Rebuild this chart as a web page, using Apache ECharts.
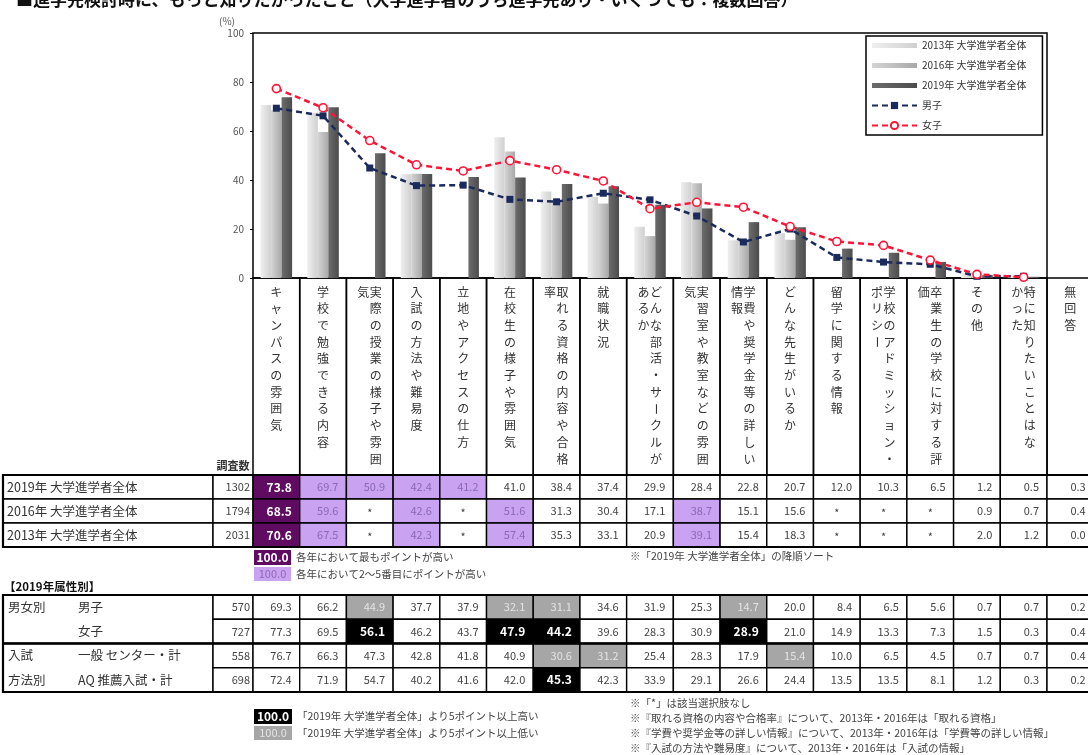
<!DOCTYPE html>
<html>
<head>
<meta charset="utf-8">
<script src="https://cdn.jsdelivr.net/npm/echarts@6/dist/echarts.min.js"></script>
<style>
html,body{margin:0;padding:0;background:#fff;}
#chart{width:1088px;height:755px;}
</style>
</head>
<body>
<div id="chart"></div>
<script>
// ---- data ----
const categories = ['キャンパスの雰囲気','学校で勉強できる内容','実際の授業の様子や雰囲気','入試の方法や難易度','立地やアクセスの仕方','在校生の様子や雰囲気','取れる資格の内容や合格率','就職状況','どんな部活・サークルがあるか','実習室や教室などの雰囲気','学費や奨学金等の詳しい情報','どんな先生がいるか','留学に関する情報','学校のアドミッション・ポリシー','卒業生の学校に対する評価','その他','特に知りたいことはなかった','無回答'];
const yearRows = ['2019年 大学進学者全体','2016年 大学進学者全体','2013年 大学進学者全体'];
const yearN = [1302, 1794, 2031];
const total2019 = [73.8,69.7,50.9,42.4,41.2,41.0,38.4,37.4,29.9,28.4,22.8,20.7,12.0,10.3,6.5,1.2,0.5,0.3];
const total2016 = [68.5,59.6,null,42.6,null,51.6,31.3,30.4,17.1,38.7,15.1,15.6,null,null,null,0.9,0.7,0.4];
const total2013 = [70.6,67.5,null,42.3,null,57.4,35.3,33.1,20.9,39.1,15.4,18.3,null,null,null,2.0,1.2,0.0];
const attrGroups = ['男女別','入試\n方法別'];
const attrRows = ['男子','女子','一般 センター・計','AQ 推薦入試・計'];
const attrN = [570, 727, 558, 698];
const male    = [69.3,66.2,44.9,37.7,37.9,32.1,31.1,34.6,31.9,25.3,14.7,20.0,8.4,6.5,5.6,0.7,0.7,0.2];
const female  = [77.3,69.5,56.1,46.2,43.7,47.9,44.2,39.6,28.3,30.9,28.9,21.0,14.9,13.3,7.3,1.5,0.3,0.4];
const general = [76.7,66.3,47.3,42.8,41.8,40.9,30.6,31.2,25.4,28.3,17.9,15.4,10.0,6.5,4.5,0.7,0.7,0.4];
const aoRec   = [72.4,71.9,54.7,40.2,41.6,42.0,45.3,42.3,33.9,29.1,26.6,24.4,13.5,13.5,8.1,1.2,0.3,0.2];
const yTicks = [0, 20, 40, 60, 80, 100];

// ---- layout & style ----
const FONT = '"Noto Sans CJK JP","Noto Sans",sans-serif';
const PLOT_N = 17;                       // categories plotted in the chart
const BAND = 794 / PLOT_N;               // width of one category column
const NCOL = 40, LEFT = 3;               // sample-size column, table left edge
const chartCats = categories.slice(0, PLOT_N);
const yMin = yTicks[0], yMax = yTicks[yTicks.length - 1], yStep = yTicks[1] - yTicks[0];

const TONES = {
  plain: {fill: '#fff', color: '#444', bold: false},
  star:  {fill: '#fff', color: '#444', bold: false},
  top:   {fill: '#5f0b61', color: '#fff', bold: true},
  high:  {fill: '#c9a2f2', color: '#8a6ab4', bold: false},
  above: {fill: '#000', color: '#fff', bold: true},
  below: {fill: '#a6a6a6', color: '#e4e4e4', bold: false}
};

function rankTones(vals) {
  const order = vals.map((v, i) => [v, i]).filter(d => d[0] != null).sort((a, b) => b[0] - a[0]);
  const res = vals.map(() => null);
  order.forEach((d, k) => { if (k === 0) res[d[1]] = 'top'; else if (k < 5) res[d[1]] = 'high'; });
  return res;
}

// upper table: yearly totals
const cells1 = [];
[total2019, total2016, total2013].forEach((vals, r) => {
  cells1.push({kind: 'head', row: r, text: yearRows[r]});
  cells1.push({kind: 'n', row: r, text: String(yearN[r])});
  const rk = rankTones(vals);
  vals.forEach((v, c) => cells1.push({kind: 'val', col: c, row: r,
    text: v == null ? '*' : v.toFixed(1), tone: v == null ? 'star' : (rk[c] || 'plain')}));
});
cells1.push({kind: 'frame', row: 0, rows: 3});

// lower table: 2019 by attribute, compared with the 2019 total
const cells2 = [];
cells2.push({kind: 'group', row: 0, span: 2, text: attrGroups[0]});
cells2.push({kind: 'group', row: 2, span: 2, text: attrGroups[1]});
[male, female, general, aoRec].forEach((vals, r) => {
  cells2.push({kind: 'item', row: r, text: attrRows[r]});
  cells2.push({kind: 'n', row: r, text: String(attrN[r])});
  vals.forEach((v, c) => {
    const d = v - total2019[c];
    cells2.push({kind: 'val', col: c, row: r, text: v.toFixed(1),
      tone: d >= 4.95 ? 'above' : (d <= -4.95 ? 'below' : 'plain')});
  });
});
cells2.push({kind: 'frame', row: 0, rows: 4, split: 2});

function txt(text, x, y, align, extra) {
  return {type: 'text', x: x, y: y, style: Object.assign({text: text, align: align, verticalAlign: 'middle',
    fontFamily: FONT, fontSize: 11, fill: '#444'}, extra || {})};
}

function tableRender(cells) {
  return function (params, api) {
    const cell = cells[params.dataIndex];
    const sz = api.size([1, 1]);
    const bw = sz[0], rh = sz[1];
    const cs = params.coordSys;
    const c0 = api.coord([0, cell.row]);
    const x0 = c0[0] - bw / 2;
    const y = c0[1] - rh / 2;
    const border = {stroke: '#000', lineWidth: 1.4};
    const kids = [];
    if (cell.kind === 'val') {
      const c = api.coord([cell.col, cell.row]);
      const x = c[0] - bw / 2;
      const t = TONES[cell.tone];
      kids.push({type: 'rect', shape: {x: x, y: y, width: bw, height: rh}, style: Object.assign({fill: t.fill}, border)});
      if (cell.tone === 'star') kids.push(txt('*', c[0], c[1] + 2, 'center'));
      else kids.push(txt(cell.text, x + bw - 8, c[1], 'right',
        {fill: t.color, fontWeight: t.bold ? 'bold' : 'normal', fontSize: t.bold ? 12 : 11}));
    } else if (cell.kind === 'n') {
      kids.push({type: 'rect', shape: {x: x0 - NCOL, y: y, width: NCOL, height: rh}, style: Object.assign({fill: '#fff'}, border)});
      kids.push(txt(cell.text, x0 - 3, c0[1], 'right'));
    } else if (cell.kind === 'head') {
      kids.push({type: 'rect', shape: {x: LEFT, y: y, width: x0 - NCOL - LEFT, height: rh}, style: Object.assign({fill: '#fff'}, border)});
      kids.push(txt(cell.text, LEFT + 4, c0[1], 'left', {fontSize: 12.5, fill: '#333'}));
    } else if (cell.kind === 'group') {
      kids.push({type: 'rect', shape: {x: LEFT, y: y, width: x0 - NCOL - LEFT, height: rh * cell.span}, style: Object.assign({fill: '#fff'}, border)});
      kids.push({type: 'text', x: LEFT + 5, y: y, style: {text: cell.text, align: 'left', verticalAlign: 'top',
        lineHeight: rh, fontFamily: FONT, fontSize: 12.5, fill: '#333'}});
    } else if (cell.kind === 'item') {
      kids.push(txt(cell.text, 78, c0[1], 'left', {fontSize: 12.5, fill: '#333'}));
    } else if (cell.kind === 'frame') {
      const right = cs.x + cs.width;
      kids.push({type: 'rect', shape: {x: LEFT, y: y, width: right - LEFT, height: rh * cell.rows},
        style: {fill: 'none', stroke: '#000', lineWidth: 2.2}});
      if (cell.split) kids.push({type: 'line', shape: {x1: LEFT, y1: y + rh * cell.split, x2: right, y2: y + rh * cell.split},
        style: {stroke: '#000', lineWidth: 2.4}});
    }
    return {type: 'group', children: kids};
  };
}

// vertical category captions (Japanese vertical writing, right column first)
function headerRender(params, api) {
  const i = api.value(0);
  const cs = params.coordSys;
  const cx = api.coord([i, 0])[0];
  const bw = api.size([1, 0])[0];
  const kids = [{type: 'rect', shape: {x: cx - bw / 2, y: cs.y, width: bw, height: cs.height},
    style: {fill: 'none', stroke: '#000', lineWidth: 1.5}}];
  const name = categories[i];
  let br = Math.min(name.length, 11);
  if (name.length > 11 && 'ぁぃぅぇぉっゃゅょァィゥェォッャュョー'.indexOf(name[11]) >= 0) br = 10;
  const first = name.slice(0, br), second = name.slice(br);
  const two = second.length > 0;
  const top = cs.y + 14, step = 16.7;
  const put = (ch, x, y) => kids.push({type: 'text', x: x, y: y, rotation: ch === 'ー' ? -Math.PI / 2 : 0,
    style: {text: ch, align: 'center', verticalAlign: 'middle', fontFamily: FONT, fontSize: 12, fill: '#333'}});
  for (let k = 0; k < first.length; k++) put(first[k], two ? cx + 6 : cx, top + k * step);
  for (let k = 0; k < second.length; k++) put(second[k], cx - 6.5, top + k * step);
  return {type: 'group', children: kids};
}

function barFill(a, b) {
  return new echarts.graphic.LinearGradient(0, 0, 1, 0, [{offset: 0, color: a}, {offset: 1, color: b}]);
}
const forChart = arr => arr.slice(0, PLOT_N).map(v => v == null ? '-' : v);

const noAxis = {show: false};
const option = {
  animation: false,
  backgroundColor: '#fff',
  grid: [
    {left: 253, top: 33, width: 794, height: 245, show: true, borderColor: '#000', borderWidth: 1.5, backgroundColor: '#fff', outerBoundsMode: 'none'},
    {left: 253, top: 278, width: BAND * 18, height: 197, outerBoundsMode: 'none'},
    {left: 253, top: 475, width: BAND * 18, height: 72, outerBoundsMode: 'none'},
    {left: 253, top: 595, width: BAND * 18, height: 97, outerBoundsMode: 'none'}
  ],
  xAxis: [
    {type: 'category', gridIndex: 0, data: chartCats, axisLine: {show: false}, axisTick: {show: false}, axisLabel: {show: false}},
    Object.assign({type: 'category', gridIndex: 1, data: categories}, noAxis),
    Object.assign({type: 'category', gridIndex: 2, data: categories}, noAxis),
    Object.assign({type: 'category', gridIndex: 3, data: categories}, noAxis)
  ],
  yAxis: [
    {type: 'value', gridIndex: 0, min: yMin, max: yMax, interval: yStep,
      axisLine: {show: false}, splitLine: {show: false},
      axisTick: {show: true, length: 3, lineStyle: {color: '#000'}},
      axisLabel: {margin: 9, fontSize: 10, color: '#555', fontFamily: FONT}},
    Object.assign({type: 'value', gridIndex: 1, min: 0, max: 1}, noAxis),
    Object.assign({type: 'category', gridIndex: 2, data: yearRows, inverse: true}, noAxis),
    Object.assign({type: 'category', gridIndex: 3, data: attrRows, inverse: true}, noAxis)
  ],
  legend: {
    orient: 'vertical', left: 866, top: 36, backgroundColor: '#fff',
    borderColor: '#000', borderWidth: 1.5, borderRadius: 0, padding: [4, 16, 4, 5],
    itemWidth: 45, itemHeight: 9, itemGap: 9,
    textStyle: {fontSize: 10, color: '#333', fontFamily: FONT, lineHeight: 11},
    data: [
      {name: '2013年 大学進学者全体', icon: 'path://M0,0L45,0L45,5L0,5Z'},
      {name: '2016年 大学進学者全体', icon: 'path://M0,0L45,0L45,5L0,5Z'},
      {name: '2019年 大学進学者全体', icon: 'path://M0,0L45,0L45,5L0,5Z'},
      {name: '男子'},
      {name: '女子'}
    ]
  },
  series: [
    {name: '2013年 大学進学者全体', type: 'bar', data: forChart(total2013), barWidth: 10.5, barGap: '0%',
      itemStyle: {color: barFill('#efefef', '#d0d0d0')}},
    {name: '2016年 大学進学者全体', type: 'bar', data: forChart(total2016), barWidth: 10.5, barGap: '0%',
      itemStyle: {color: barFill('#d4d4d4', '#a9a9a9')}},
    {name: '2019年 大学進学者全体', type: 'bar', data: forChart(total2019), barWidth: 10.5, barGap: '0%',
      itemStyle: {color: barFill('#6c6c6c', '#4c4c4c')}},
    {name: '男子', type: 'line', data: male.slice(0, PLOT_N), symbol: 'rect', symbolSize: 7,
      lineStyle: {color: '#1b2a5c', width: 2.5, type: [6, 4]}, itemStyle: {color: '#1b2a5c'}, z: 5},
    {name: '女子', type: 'line', data: female.slice(0, PLOT_N), symbol: 'circle', symbolSize: 8,
      lineStyle: {color: '#ff1438', width: 2.5, type: [6, 4]},
      itemStyle: {color: '#fff', borderColor: '#ff1438', borderWidth: 1.6}, z: 6},
    {type: 'custom', xAxisIndex: 1, yAxisIndex: 1, silent: true, clip: false,
      data: categories.map((c, i) => [i, 0]), renderItem: headerRender},
    {type: 'custom', xAxisIndex: 2, yAxisIndex: 2, silent: true, clip: false,
      data: cells1.map(c => [c.col || 0, c.row]), renderItem: tableRender(cells1)},
    {type: 'custom', xAxisIndex: 3, yAxisIndex: 3, silent: true, clip: false,
      data: cells2.map(c => [c.col || 0, c.row]), renderItem: tableRender(cells2)}
  ],
  graphic: [
    {type: 'text', x: 16, y: 0, style: {text: '■進学先検討時に、もっと知りたかったこと（大学進学者のうち進学先あり・いくつでも：複数回答）',
      fontFamily: FONT, fontSize: 17, fontWeight: 'bold', fill: '#111', align: 'left', verticalAlign: 'middle'}},
    txt('(%)', 227, 21, 'center', {fontSize: 10, fill: '#555'}),
    txt('調査数', 233, 466, 'center', {fontSize: 11, fill: '#333', fontWeight: 'bold'}),
    // ranking key
    {type: 'rect', shape: {x: 254, y: 550, width: 37, height: 15}, style: {fill: TONES.top.fill}},
    txt('100.0', 272.5, 557.5, 'center', {fill: '#fff', fontWeight: 'bold', fontSize: 12}),
    txt('各年において最もポイントが高い', 296, 557.5, 'left', {fontSize: 10.5}),
    {type: 'rect', shape: {x: 254, y: 567, width: 37, height: 14}, style: {fill: TONES.high.fill}},
    txt('100.0', 272.5, 574, 'center', {fill: TONES.high.color, fontSize: 11}),
    txt('各年において2～5番目にポイントが高い', 296, 574, 'left', {fontSize: 10.5}),
    txt('※「2019年 大学進学者全体」の降順ソート', 630, 556, 'left', {fontSize: 10.5}),
    txt('【2019年属性別】', 4, 587, 'left', {fontSize: 11.5, fontWeight: 'bold', fill: '#111'}),
    // comparison key
    {type: 'rect', shape: {x: 254, y: 709, width: 38, height: 15}, style: {fill: TONES.above.fill}},
    txt('100.0', 273, 716.5, 'center', {fill: '#fff', fontWeight: 'bold', fontSize: 12}),
    txt('「2019年 大学進学者全体」より5ポイント以上高い', 297, 716.5, 'left', {fontSize: 10.5}),
    {type: 'rect', shape: {x: 254, y: 726, width: 38, height: 14}, style: {fill: TONES.below.fill}},
    txt('100.0', 273, 733, 'center', {fill: TONES.below.color, fontSize: 11}),
    txt('「2019年 大学進学者全体」より5ポイント以上低い', 297, 733, 'left', {fontSize: 10.5}),
    // notes
    txt('※「*」は該当選択肢なし', 630, 703, 'left', {fontSize: 10.5}),
    txt('※『取れる資格の内容や合格率』について、2013年・2016年は「取れる資格」', 630, 718, 'left', {fontSize: 10.5}),
    txt('※『学費や奨学金等の詳しい情報』について、2013年・2016年は「学費等の詳しい情報」', 630, 733, 'left', {fontSize: 10.5}),
    txt('※『入試の方法や難易度』について、2013年・2016年は「入試の情報」', 630, 748, 'left', {fontSize: 10.5})
  ]
};

const chart = echarts.init(document.getElementById('chart'));
chart.setOption(option);
</script>
</body>
</html>
